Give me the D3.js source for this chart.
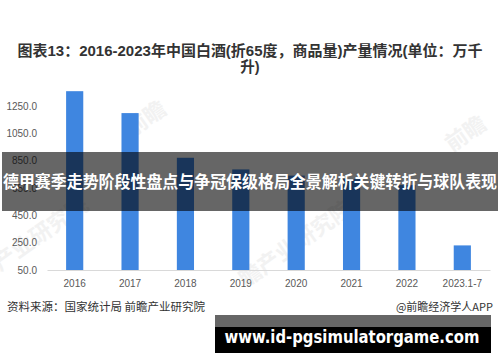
<!DOCTYPE html>
<html lang="zh-CN">
<head>
    <meta charset="utf-8" />
    <title>2016-2023年中国白酒产量情况</title>
    <script src="https://d3js.org/d3.v7.js"></script>
    <style>
        body, html {
            margin: 0;
            padding: 0;
            background: #ffffff;
        }
        svg text {
            font-family: "Liberation Sans", "Noto Sans CJK SC", sans-serif;
        }
        .cjk {
            font-family: "Noto Sans CJK SC", "Liberation Sans", sans-serif !important;
        }
    </style>
</head>
<body>
    <div id="canvas"></div>
</body>
</html>
<script>
    // 年份与产量(万千升)
    let years = ["2016", "2017", "2018", "2019", "2020", "2021", "2022", "2023.1-7"]
    let output = [1358.4, 1198.1, 871.2, 785.9, 740.7, 715.6, 671.2, 230.0]
    let yTicks = [50, 250, 450, 650, 850, 1050, 1250]

    let svg = d3.select("#canvas")
        .append("svg")
        .attr("width", 500)
        .attr("height", 362)

    // 水印(很淡)
    let marks = [
        {x: 150, y: 125, t: "前瞻"},
        {x: 45, y: 240, t: "产业研究院"},
        {x: 300, y: 250, t: "瞻产业研究院"},
        {x: 470, y: 140, t: "前瞻"}
    ]
    svg.selectAll(".wm")
        .data(marks)
        .enter()
        .append("text")
        .attr("class", "wm cjk")
        .attr("transform", d => "translate(" + d.x + "," + d.y + ") rotate(-35)")
        .attr("text-anchor", "middle")
        .style("font-size", "22px")
        .style("font-weight", "bold")
        .style("fill", "#f2f2f2")
        .text(d => d.t)

    // 标题
    let title = svg.append("text")
        .attr("text-anchor", "middle")
        .style("font-size", "14.5px")
        .style("font-weight", "bold")
        .style("fill", "#333333")
    title.append("tspan").attr("x", 250).attr("y", 56)
        .attr("textLength", 465)
        .attr("lengthAdjust", "spacingAndGlyphs")
        .text("图表13：2016-2023年中国白酒(折65度，商品量)产量情况(单位：万千")
    title.append("tspan").attr("x", 250).attr("y", 72)
        .text("升)")

    // 比例尺
    let xScale = d3.scaleBand()
        .domain(years)
        .range([47, 490])
        .paddingInner(0.69)
        .paddingOuter(0.345)

    let yScale = d3.scaleLinear()
        .domain([50, 1250])
        .range([270, 106])

    // 直条
    svg.selectAll(".bar")
        .data(output)
        .enter()
        .append("rect")
        .attr("class", "bar")
        .attr("x", (d, i) => xScale(years[i]))
        .attr("y", d => yScale(d))
        .attr("width", xScale.bandwidth())
        .attr("height", d => yScale(50) - yScale(d))
        .style("fill", "#3f86e0")

    // X轴
    let xAxis = d3.axisBottom(xScale).tickSize(0).tickPadding(10)
    let gx = svg.append("g")
        .attr("transform", "translate(0," + yScale(50) + ")")
        .call(xAxis)
    gx.select(".domain").attr("stroke", "#d9d9d9")
    gx.selectAll("text")
        .style("font-size", "10px")
        .style("fill", "#595959")

    // Y轴
    let yAxis = d3.axisLeft(yScale)
        .tickValues(yTicks)
        .tickFormat(d3.format(".1f"))
        .tickSize(0)
        .tickPadding(0)
    let gy = svg.append("g")
        .attr("transform", "translate(37,0)")
        .call(yAxis)
    gy.select(".domain").remove()
    gy.selectAll("text")
        .style("font-size", "10px")
        .style("fill", "#595959")

    // 资料来源
    svg.append("text")
        .attr("class", "cjk")
        .attr("x", 7).attr("y", 311)
        .style("font-size", "11.5px")
        .style("fill", "#333333")
        .text("资料来源：国家统计局 前瞻产业研究院")

    svg.append("text")
        .attr("class", "cjk")
        .attr("x", 493).attr("y", 311)
        .attr("text-anchor", "end")
        .style("font-size", "11px")
        .style("fill", "#333333")
        .text("@前瞻经济学人APP")

    // 中间的半透明横幅
    svg.append("rect")
        .attr("x", 2).attr("y", 152)
        .attr("width", 496).attr("height", 59)
        .style("fill", "rgba(0,0,0,0.6)")

    svg.append("text")
        .attr("class", "cjk")
        .attr("x", 250).attr("y", 188)
        .attr("text-anchor", "middle")
        .attr("textLength", 494)
        .attr("lengthAdjust", "spacingAndGlyphs")
        .style("font-size", "16.5px")
        .style("font-weight", "bold")
        .style("fill", "#ffffff")
        .text("德甲赛季走势阶段性盘点与争冠保级格局全景解析关键转折与球队表现")

    // 底部网址横幅
    svg.append("rect")
        .attr("x", 215).attr("y", 315)
        .attr("width", 276).attr("height", 12)
        .style("fill", "#666666")
    svg.append("rect")
        .attr("x", 215).attr("y", 327)
        .attr("width", 276).attr("height", 26)
        .style("fill", "#000000")
    svg.append("text")
        .attr("x", 352).attr("y", 343)
        .attr("text-anchor", "middle")
        .attr("textLength", 255)
        .attr("lengthAdjust", "spacingAndGlyphs")
        .style("font-family", "'DejaVu Sans', sans-serif")
        .style("font-size", "17px")
        .style("font-weight", "bold")
        .style("fill", "#ffffff")
        .text("www.id-pgsimulatorgame.com")
</script>
